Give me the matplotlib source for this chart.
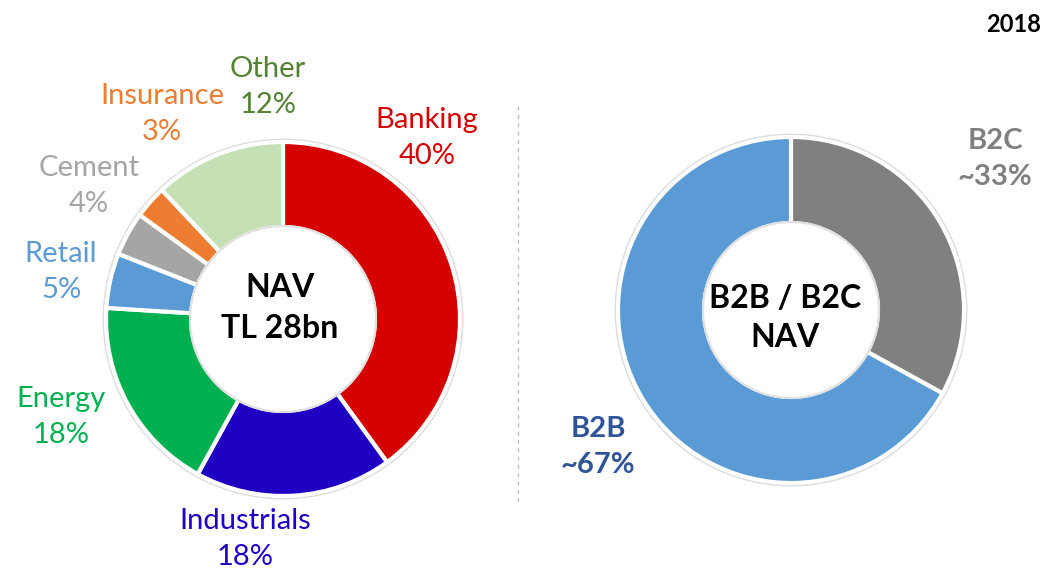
import matplotlib.pyplot as plt
from matplotlib.patches import Circle

plt.rcParams['font.family'] = ['Lato', 'DejaVu Sans']

# sector split of NAV (left donut), clockwise from 12 o'clock
sectors = ['Banking', 'Industrials', 'Energy', 'Retail', 'Cement', 'Insurance', 'Other']
sector_share = [40, 18, 18, 5, 4, 3, 12]
sector_colors = ['#D50000', '#1F00C2', '#00B050', '#5B9BD5', '#A5A5A5', '#ED7D31', '#C5E0B4']
sector_text_colors = ['#D50000', '#1F00C2', '#00B050', '#5B9BD5', '#A5A5A5', '#ED7D31', '#548235']

# B2B / B2C split (right donut), clockwise from 12 o'clock
segments = ['B2C', 'B2B']
segment_share = [33, 67]
segment_colors = ['#808080', '#5B9BD5']
segment_text_colors = ['#808080', '#2F5597']

# label anchor points (pixels from top-left)
sector_label_pos = {
    'Banking': (427, 138), 'Industrials': (245, 539), 'Energy': (61, 417),
    'Retail': (61, 272), 'Cement': (89, 186), 'Insurance': (162, 114),
    'Other': (268, 87),
}
segment_label_pos = {'B2C': (995, 159), 'B2B': (598, 447)}

W, H = 1046, 571
fig = plt.figure(figsize=(W / 100, H / 100), dpi=100)
ax = fig.add_axes([0, 0, 1, 1])
ax.set_xlim(0, W)
ax.set_ylim(0, H)
ax.set_aspect('equal')
ax.axis('off')


def py(y):
    # convert pixel-from-top to data y
    return H - y


def donut(values, colors, center, radius, inner):
    # faint shadow ring around the donut
    ax.add_patch(Circle(center, radius + 2, facecolor='none', edgecolor='#dcdcdc', lw=2, zorder=1))
    ax.pie(values, colors=colors, startangle=90, counterclock=False,
           center=center, radius=radius, frame=True,
           wedgeprops=dict(width=radius - inner, edgecolor='white', linewidth=3))
    ax.add_patch(Circle(center, inner + 1, facecolor='white', edgecolor='#e0e0e0', lw=1.5, zorder=3))


left_c = (283, py(319))
right_c = (791, py(310))
donut(sector_share, sector_colors, left_c, 177, 92)
donut(segment_share, segment_colors, right_c, 173, 87)

# pie() resets limits, restore the pixel canvas
ax.set_xlim(0, W)
ax.set_ylim(0, H)
ax.axis('off')

for name, share, col in zip(sectors, sector_share, sector_text_colors):
    x, y = sector_label_pos[name]
    ax.text(x, py(y), f'{name}\n{share}%', color=col, fontsize=21,
            ha='center', va='center', linespacing=1.47, zorder=5)

for name, share, col in zip(segments, segment_share, segment_text_colors):
    x, y = segment_label_pos[name]
    ax.text(x, py(y), f'{name}\n~{share}%', color=col, fontsize=21, fontweight='bold',
            ha='center', va='center', linespacing=1.47, zorder=5)

ax.text(280, py(308), 'NAV\nTL 28bn', fontsize=23, fontweight='bold',
        ha='center', va='center', linespacing=1.5, zorder=5)
ax.text(785, py(318), 'B2B / B2C\nNAV', fontsize=23, fontweight='bold',
        ha='center', va='center', linespacing=1.44, zorder=5)

ax.text(1041, py(25), '2018', fontsize=17, fontweight='bold', ha='right', va='center')

# dotted separator between the two donuts
ax.plot([518, 518], [py(106), py(506)], color='#bfbfbf', lw=1, linestyle=(0, (3, 3)))

fig.savefig('out.png', dpi=100)
